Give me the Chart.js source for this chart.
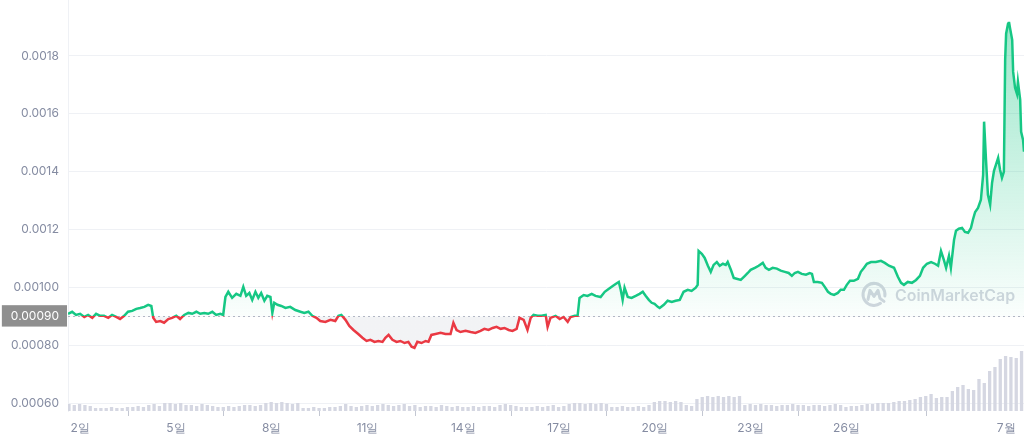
<!DOCTYPE html>
<html>
<head>
<meta charset="utf-8">
<script src="https://cdn.jsdelivr.net/npm/chart.js@4"></script>
<style>
  body { margin: 0; background: #fff; }
  #wrap { width: 1024px; height: 441px; }
</style>
</head>
<body>
<div id="wrap"><canvas id="chart1" width="1024" height="441"></canvas></div>
<script>
// 가격 (일 단위 x, 가격 y)
const days = [
  1.62, 1.75, 1.87, 2.00, 2.13, 2.25, 2.38, 2.50, 2.63, 2.75,
  2.88, 3.00, 3.13, 3.25, 3.38, 3.50, 3.63, 3.76, 3.88, 4.01,
  4.13, 4.23, 4.29, 4.38, 4.51, 4.63, 4.76, 4.88, 5.01, 5.13,
  5.26, 5.39, 5.51, 5.64, 5.76, 5.89, 6.01, 6.14, 6.26, 6.39,
  6.48, 6.55, 6.64, 6.76, 6.89, 7.02, 7.11, 7.20, 7.30, 7.39,
  7.49, 7.58, 7.67, 7.77, 7.86, 7.96, 8.02, 8.08, 8.18, 8.30,
  8.43, 8.58, 8.74, 8.90, 9.02, 9.15, 9.27, 9.40, 9.52, 9.68,
  9.84, 9.99, 10.09, 10.18, 10.31, 10.43, 10.56, 10.71, 10.84, 10.97,
  11.09, 11.22, 11.34, 11.47, 11.56, 11.66, 11.78, 11.91, 12.03, 12.16,
  12.28, 12.38, 12.47, 12.56, 12.69, 12.82, 12.91, 13.00, 13.13, 13.29,
  13.44, 13.60, 13.69, 13.79, 13.91, 14.07, 14.23, 14.38, 14.54, 14.66,
  14.79, 14.92, 15.04, 15.17, 15.29, 15.42, 15.54, 15.67, 15.76, 15.89,
  16.01, 16.11, 16.20, 16.33, 16.45, 16.58, 16.64, 16.73, 16.89, 17.02,
  17.14, 17.27, 17.36, 17.49, 17.58, 17.64, 17.77, 17.89, 18.02, 18.14,
  18.30, 18.43, 18.55, 18.68, 18.77, 18.87, 18.93, 18.99, 19.05, 19.15,
  19.27, 19.40, 19.52, 19.62, 19.71, 19.81, 19.90, 19.99, 20.09, 20.15,
  20.28, 20.40, 20.53, 20.65, 20.78, 20.90, 21.03, 21.15, 21.28, 21.34,
  21.37, 21.47, 21.56, 21.66, 21.75, 21.84, 21.94, 22.03, 22.13, 22.22,
  22.28, 22.38, 22.47, 22.56, 22.69, 22.82, 22.91, 23.00, 23.13, 23.25,
  23.38, 23.47, 23.57, 23.69, 23.82, 23.94, 24.07, 24.19, 24.29, 24.38,
  24.48, 24.60, 24.73, 24.85, 24.92, 24.98, 25.10, 25.23, 25.32, 25.42,
  25.51, 25.61, 25.73, 25.82, 25.92, 26.01, 26.11, 26.23, 26.36, 26.45,
  26.55, 26.64, 26.77, 26.92, 27.08, 27.20, 27.33, 27.49, 27.61, 27.71,
  27.80, 27.92, 28.05, 28.18, 28.30, 28.40, 28.52, 28.65, 28.77, 28.87,
  28.96, 29.05, 29.12, 29.21, 29.27, 29.37, 29.43, 29.52, 29.62, 29.71,
  29.81, 29.90, 29.96, 30.03, 30.12, 30.21, 30.28, 30.31, 30.37, 30.43,
  30.50, 30.56, 30.62, 30.68, 30.75, 30.81, 30.87, 30.93, 30.97, 31.00,
  31.06, 31.09, 31.12, 31.19, 31.22, 31.28, 31.34, 31.37, 31.44, 31.47,
  31.53, 31.56
];
const price = [
  0.000909, 0.000916, 0.000905, 0.000909, 0.000898, 0.000905, 0.000895, 0.000909, 0.000902, 0.000902,
  0.000895, 0.000905, 0.000898, 0.000891, 0.000902, 0.000916, 0.000919, 0.000926, 0.000929, 0.000933,
  0.000940, 0.000936, 0.000895, 0.000881, 0.000884, 0.000878, 0.000891, 0.000895, 0.000902, 0.000891,
  0.000905, 0.000912, 0.000909, 0.000916, 0.000909, 0.000912, 0.000909, 0.000916, 0.000905, 0.000909,
  0.000905, 0.000967, 0.000985, 0.000964, 0.000978, 0.000971, 0.001002, 0.000971, 0.000981, 0.000957,
  0.000985, 0.000964, 0.000981, 0.000954, 0.000971, 0.000967, 0.000912, 0.000947, 0.000940, 0.000936,
  0.000929, 0.000933, 0.000922, 0.000916, 0.000912, 0.000916, 0.000902, 0.000895, 0.000884, 0.000881,
  0.000888, 0.000884, 0.000902, 0.000905, 0.000888, 0.000867, 0.000853, 0.000839, 0.000826, 0.000815,
  0.000819, 0.000812, 0.000815, 0.000812, 0.000826, 0.000836, 0.000819, 0.000812, 0.000815, 0.000808,
  0.000812, 0.000795, 0.000791, 0.000812, 0.000808, 0.000815, 0.000812, 0.000836, 0.000839, 0.000843,
  0.000839, 0.000839, 0.000878, 0.000853, 0.000846, 0.000850, 0.000846, 0.000843, 0.000850, 0.000857,
  0.000853, 0.000860, 0.000864, 0.000857, 0.000860, 0.000853, 0.000850, 0.000857, 0.000895, 0.000888,
  0.000853, 0.000895, 0.000905, 0.000902, 0.000902, 0.000905, 0.000864, 0.000895, 0.000902, 0.000891,
  0.000898, 0.000881, 0.000898, 0.000902, 0.000902, 0.000964, 0.000974, 0.000971, 0.000978, 0.000971,
  0.000967, 0.000985, 0.000995, 0.001005, 0.001012, 0.001019, 0.000992, 0.000957, 0.000999, 0.000967,
  0.000964, 0.000971, 0.000978, 0.000985, 0.000971, 0.000957, 0.000947, 0.000943, 0.000933, 0.000929,
  0.000940, 0.000954, 0.000950, 0.000954, 0.000957, 0.000985, 0.000992, 0.000988, 0.000999, 0.001009,
  0.001126, 0.001116, 0.001102, 0.001075, 0.001054, 0.001078, 0.001088, 0.001075, 0.001082, 0.001078,
  0.001088, 0.001061, 0.001033, 0.001030, 0.001026, 0.001040, 0.001050, 0.001061, 0.001068, 0.001075,
  0.001085, 0.001068, 0.001061, 0.001068, 0.001065, 0.001058, 0.001054, 0.001050, 0.001040, 0.001050,
  0.001054, 0.001047, 0.001044, 0.001050, 0.001047, 0.001019, 0.001019, 0.001016, 0.001002, 0.000985,
  0.000978, 0.000974, 0.000981, 0.000992, 0.000992, 0.001009, 0.001023, 0.001023, 0.001030, 0.001054,
  0.001068, 0.001082, 0.001088, 0.001088, 0.001092, 0.001085, 0.001075, 0.001068, 0.001037, 0.001016,
  0.001009, 0.001019, 0.001016, 0.001026, 0.001040, 0.001068, 0.001082, 0.001088, 0.001082, 0.001075,
  0.001126, 0.001095, 0.001068, 0.001109, 0.001068, 0.001165, 0.001196, 0.001203, 0.001206, 0.001192,
  0.001189, 0.001206, 0.001234, 0.001261, 0.001275, 0.001303, 0.001389, 0.001573, 0.001441, 0.001320,
  0.001286, 0.001362, 0.001403, 0.001424, 0.001448, 0.001407, 0.001379, 0.001400, 0.001787, 0.001877,
  0.001911, 0.001918, 0.001898, 0.001856, 0.001745, 0.001690, 0.001669, 0.001711, 0.001649, 0.001538,
  0.001510, 0.001469
];

// 거래량 (4시간 단위, 상대값)
const volStart = 1.65;
const volStep = 1 / 6;
const volume = [
  7, 6, 7, 6, 5, 3, 3, 3, 4, 3, 3, 4,
  4, 5, 4, 6, 7, 5, 8, 8, 7, 8, 6, 6, 5, 7, 6, 5,
  4, 4, 5, 4, 5, 6, 6, 5, 6, 8, 9, 8, 9, 8, 7, 8,
  3, 3, 4, 3, 3, 4, 4, 5, 7, 5, 4, 5, 6,
  5, 6, 7, 6, 5, 6, 7, 5, 6, 4, 5, 5, 4, 6, 5, 4, 5, 4,
  4, 5, 4, 5, 5, 4, 6, 7, 6, 5, 4,
  4, 4, 5, 4, 5, 6, 4, 5, 7, 8, 8, 7, 8, 7, 8, 7,
  4, 4, 5, 4, 4, 5, 4, 6, 9, 10, 10, 9, 10, 9, 6, 5,
  12, 14, 15, 14, 15, 14, 15, 14, 15,
  6, 7, 6, 7, 6, 6, 5, 6, 6, 7, 6, 6, 5, 6, 6, 5, 6, 7, 6,
  4, 5, 5, 6, 7, 7, 8, 8, 8, 9, 10, 10, 11, 12,
  14, 15, 17, 13, 14, 14, 20, 24, 26, 22, 21, 32, 28,
  40, 44, 52, 55, 54, 53, 60
];

const baseline = 0.0009;
const priceTicks = [0.0006, 0.0008, 0.0009, 0.0010, 0.0012, 0.0014, 0.0016, 0.0018];
const priceLabels = ['0.00060', '0.00080', '0.00090', '0.00100', '0.0012', '0.0014', '0.0016', '0.0018'];
const dayTicks = [2, 5, 8, 11, 14, 17, 20, 23, 26, 31];
const dayLabels = ['2일', '5일', '8일', '11일', '14일', '17일', '20일', '23일', '26일', '7월'];

const green = '#16c784';
const red = '#ea3943';
const axisGray = '#858ca2';

function splitPx(chart) {
  const a = chart.chartArea;
  const yb = chart.scales.y.getPixelForValue(baseline);
  return (yb - a.top) / (a.bottom - a.top);
}

function lineColor(c) {
  const chart = c.chart;
  if (!chart.chartArea) return green;
  const a = chart.chartArea;
  const f = splitPx(chart);
  const g = chart.ctx.createLinearGradient(0, a.top, 0, a.bottom);
  g.addColorStop(0, green);
  g.addColorStop(f, green);
  g.addColorStop(Math.min(1, f + 0.0001), red);
  g.addColorStop(1, red);
  return g;
}

function fillColor(c) {
  const chart = c.chart;
  if (!chart.chartArea) return 'rgba(0,0,0,0)';
  const a = chart.chartArea;
  const f = splitPx(chart);
  const g = chart.ctx.createLinearGradient(0, a.top, 0, a.bottom);
  g.addColorStop(0, 'rgba(22,199,132,0.45)');
  g.addColorStop(f, 'rgba(22,199,132,0.02)');
  g.addColorStop(Math.min(1, f + 0.0001), 'rgba(128,138,157,0.10)');
  g.addColorStop(1, 'rgba(128,138,157,0.10)');
  return g;
}

const baseLine = {
  id: 'baseLine',
  beforeDatasetsDraw(chart) {
    const { ctx, chartArea: a } = chart;
    const yb = Math.round(chart.scales.y.getPixelForValue(baseline)) + 0.5;
    ctx.save();
    ctx.strokeStyle = '#b4b9c6';
    ctx.lineWidth = 1;
    ctx.setLineDash([2, 3]);
    ctx.beginPath();
    ctx.moveTo(a.left, yb);
    ctx.lineTo(a.right, yb);
    ctx.stroke();
    ctx.restore();
  }
};

const watermark = {
  id: 'watermark',
  beforeDatasetsDraw(chart) {
    const { ctx, chartArea: a } = chart;
    const yb = chart.scales.y.getPixelForValue(baseline);
    const cx = a.right - 150, cy = yb - 22;
    ctx.save();
    ctx.strokeStyle = '#d3d6df';
    ctx.fillStyle = '#d3d6df';
    ctx.lineWidth = 3;
    ctx.lineCap = 'round';
    ctx.lineJoin = 'round';
    ctx.beginPath();
    ctx.arc(cx, cy, 11, 0.3 * Math.PI, 2.05 * Math.PI);
    ctx.stroke();
    ctx.beginPath();
    ctx.moveTo(cx - 6, cy + 5);
    ctx.lineTo(cx - 4, cy - 4);
    ctx.lineTo(cx, cy + 2);
    ctx.lineTo(cx + 4, cy - 4);
    ctx.lineTo(cx + 6, cy + 4);
    ctx.lineTo(cx + 10, cy + 7);
    ctx.stroke();
    let size = 19;
    ctx.font = '600 ' + size + 'px Inter';
    const w = ctx.measureText('CoinMarketCap').width;
    size = size * 120 / w;
    ctx.font = '600 ' + size.toFixed(1) + 'px Inter';
    ctx.textBaseline = 'alphabetic';
    ctx.fillText('CoinMarketCap', cx + 21, cy + 7);
    ctx.restore();
  }
};

const config = {
  type: 'line',
  data: {
    datasets: [
      {
        type: 'line',
        label: 'price',
        data: days.map((d, i) => ({ x: d, y: price[i] })),
        yAxisID: 'y',
        borderColor: lineColor,
        backgroundColor: fillColor,
        borderWidth: 2.5,
        pointRadius: 0,
        tension: 0,
        fill: { target: { value: baseline } },
        order: 1
      },
      {
        type: 'bar',
        label: 'volume',
        data: volume.map((v, i) => ({ x: volStart + i * volStep, y: v })),
        yAxisID: 'yv',
        backgroundColor: '#d5d7e2',
        barPercentage: 0.62,
        categoryPercentage: 1,
        order: 2
      }
    ]
  },
  options: {
    responsive: false,
    animation: false,
    layout: { padding: 0 },
    plugins: { legend: { display: false }, tooltip: { enabled: false } },
    scales: {
      x: {
        type: 'linear',
        min: 1.62,
        max: 31.56,
        offset: false,
        afterBuildTicks: s => { s.ticks = dayTicks.map(v => ({ value: v })); },
        ticks: {
          autoSkip: false,
          maxRotation: 0,
          padding: 5,
          color: axisGray,
          font: { family: 'Inter', size: 12 },
          callback: (v, i) => dayLabels[i]
        },
        grid: { drawOnChartArea: false, drawTicks: true, tickLength: 5, color: '#c3c7d2' },
        border: { display: false },
        afterFit: s => { s.height = 30; s.paddingLeft = 0; s.paddingRight = 0; }
      },
      y: {
        type: 'linear',
        min: 0.000573,
        max: 0.0019935,
        afterBuildTicks: s => { s.ticks = priceTicks.map(v => ({ value: v })); },
        afterFit: s => { s.width = 68; s.paddingTop = 0; s.paddingBottom = 0; },
        ticks: {
          padding: 9,
          font: { family: 'Inter', size: 12 },
          color: c => (c.tick && c.tick.value === baseline) ? '#ffffff' : axisGray,
          showLabelBackdrop: c => !!(c.tick && c.tick.value === baseline),
          backdropColor: '#8f8f8f',
          backdropPadding: { top: 4, bottom: 3, left: 9, right: 8 },
          callback: (v, i) => priceLabels[i]
        },
        grid: {
          drawTicks: false,
          color: c => (c.tick && c.tick.value === baseline) ? 'rgba(0,0,0,0)' : '#eff1f5'
        },
        border: { display: true, color: '#eff1f5' }
      },
      yv: {
        type: 'linear',
        display: false,
        min: 0,
        max: 411
      }
    }
  },
  plugins: [baseLine, watermark]
};

const myChart = new Chart(document.getElementById('chart1'), config);
</script>
</body>
</html>
